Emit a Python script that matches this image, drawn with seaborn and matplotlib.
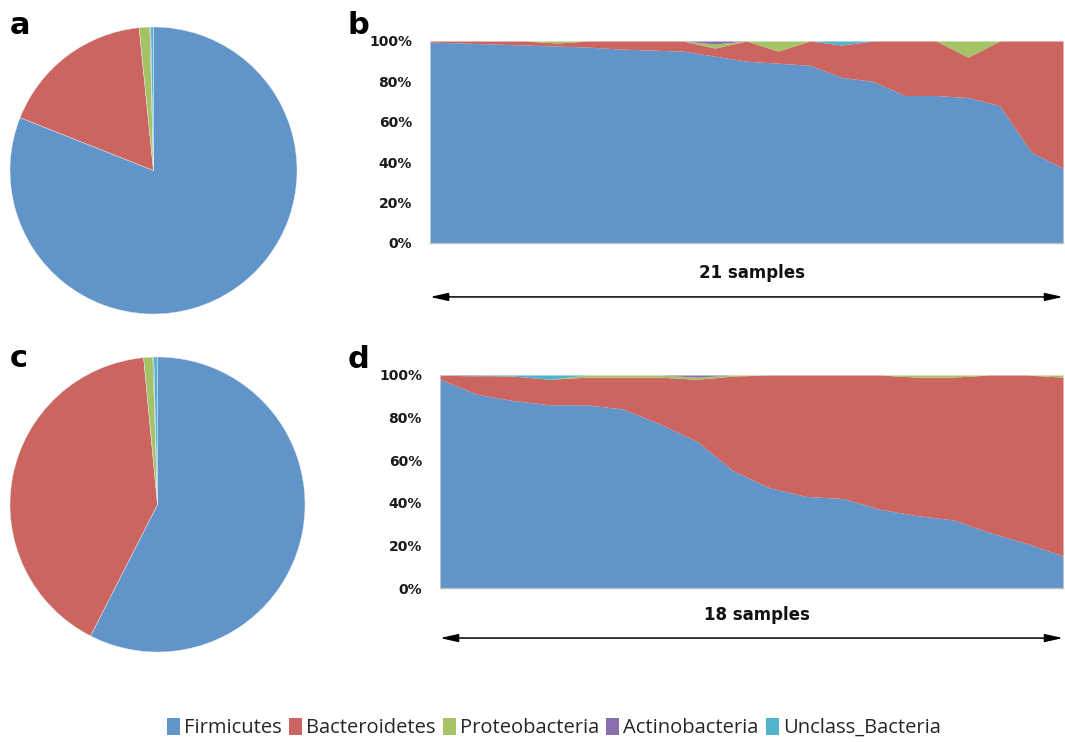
import numpy as np
import matplotlib
matplotlib.use("Agg")
import matplotlib.pyplot as plt
from matplotlib import font_manager
from matplotlib.patches import Patch
import seaborn as sns

# ---------------- data ----------------
phyla = ["Firmicutes", "Bacteroidetes", "Proteobacteria", "Actinobacteria", "Unclass_Bacteria"]

pie_a = [81.0, 17.4, 1.2, 0.1, 0.3]
pie_c = [57.5, 41.0, 1.0, 0.1, 0.4]

b_firm = [99.5, 99, 98.5, 98, 97.5, 97, 96, 95.5, 95, 92.5, 90, 89, 88, 82, 80, 73, 73, 72, 68, 45, 37]
b_proteo = [0, 0, 0, 0, 1, 0, 0, 0, 0, 2, 0, 5, 0, 0, 0, 0, 0, 8, 0, 0, 0]
b_actino = [0, 0, 0, 0, 0, 0, 0, 0, 0, 1.5, 0, 0, 0, 0, 0, 0, 0, 0, 0, 0, 0]
b_uncl = [0, 0, 0, 0, 0, 0, 0, 0, 0, 0, 0, 0, 0, 2, 0, 0, 0, 0, 0, 0, 0]

d_firm = [98, 91, 88, 86, 86, 84, 77, 69, 55, 47, 43, 42, 37, 34, 32, 26, 21, 15]
d_proteo = [0, 0, 0, 0, 1, 1, 1, 1, 0.5, 0, 0, 0, 0, 1, 1, 0, 0, 1]
d_actino = [0, 0.5, 0, 0, 0, 0, 0, 1, 0, 0, 0, 0, 0, 0, 0, 0, 0, 0]
d_uncl = [0, 0, 0.5, 2, 0, 0, 0, 0, 0, 0, 0, 0, 0, 0, 0, 0, 0, 0]

yticks = [0, 20, 40, 60, 80, 100]
ytick_labels = ["0%", "20%", "40%", "60%", "80%", "100%"]

# ---------------- style ----------------
sns.set_theme(style="white")
avail = {f.name for f in font_manager.fontManager.ttflist}
leg_font = "Liberation Sans Narrow" if "Liberation Sans Narrow" in avail else "Open Sans"
plt.rcParams["font.family"] = ["DejaVu Sans"]

colors = sns.color_palette(["#6194c9", "#cc6460", "#a3c364", "#8a6fae", "#52b3cc"])

W, H = 1065, 742
fig = plt.figure(figsize=(W / 100, H / 100), dpi=100)


def fax(x0, y0, x1, y1):
    return fig.add_axes([x0 / W, 1 - y1 / H, (x1 - x0) / W, (y1 - y0) / H])


def draw_pie(ax, vals):
    ax.pie(vals, colors=colors, startangle=90, counterclock=False,
           wedgeprops=dict(linewidth=0.3, edgecolor="#e8eef5"))
    ax.set_xlim(-1, 1)
    ax.set_ylim(-1, 1)
    ax.set_aspect("equal")
    ax.axis("off")


def draw_area(ax, firm, proteo, actino, uncl, label, text_y, arrow_y):
    firm = np.array(firm, float)
    proteo = np.array(proteo, float)
    actino = np.array(actino, float)
    uncl = np.array(uncl, float)
    bact = 100 - firm - proteo - actino - uncl
    x = np.arange(len(firm))
    ax.stackplot(x, firm, bact, proteo, actino, uncl, colors=colors, linewidth=0)
    ax.set_xlim(0, len(firm) - 1)
    ax.set_ylim(0, 100)
    ax.set_yticks(yticks)
    ax.set_yticklabels(ytick_labels, fontsize=10, fontweight="bold", color="#1a1a1a")
    ax.set_xticks([])
    ax.tick_params(axis="y", length=0, pad=13)
    sns.despine(ax=ax, left=True, top=True, right=True)
    ax.spines["bottom"].set_color("#bfbfbf")
    ax.spines["bottom"].set_linewidth(1.0)
    ax.grid(False)
    ax.text(0.509, text_y, label, transform=ax.transAxes, ha="center", va="center",
            fontsize=12, fontweight="bold", color="#111111")
    ax.annotate("", xy=(1.0, arrow_y), xytext=(0.0, arrow_y),
                xycoords="axes fraction", textcoords="axes fraction",
                arrowprops=dict(arrowstyle="<|-|>,head_length=0.9,head_width=0.2",
                                color="black", lw=1.1, shrinkA=0, shrinkB=0),
                annotation_clip=False)


ax_a = fax(10, 27, 297, 314)
draw_pie(ax_a, pie_a)
ax_c = fax(10, 357, 305, 652)
draw_pie(ax_c, pie_c)

ax_b = fax(430, 41, 1063, 243)
draw_area(ax_b, b_firm, b_proteo, b_actino, b_uncl, "21 samples", -0.149, -0.267)
ax_d = fax(440, 375, 1063, 588)
draw_area(ax_d, d_firm, d_proteo, d_actino, d_uncl, "18 samples", -0.127, -0.235)

for lab, (px, py) in zip(["a", "b", "c", "d"], [(10, 25), (348, 25), (10, 358), (348, 360)]):
    fig.text(px / W, 1 - py / H, lab, fontsize=22, fontweight="bold", ha="left", va="center",
             color="black")

handles = [Patch(facecolor=c, edgecolor="none") for c in colors]
fig.legend(handles, phyla, loc="center", bbox_to_anchor=(554 / W, 1 - 728 / H), ncol=5,
           frameon=False, handlelength=0.65, handleheight=0.9, handletextpad=0.2,
           columnspacing=0.35, prop={"family": leg_font, "size": 14.5},
           labelcolor="#262626")

fig.savefig("out.png", dpi=100)
